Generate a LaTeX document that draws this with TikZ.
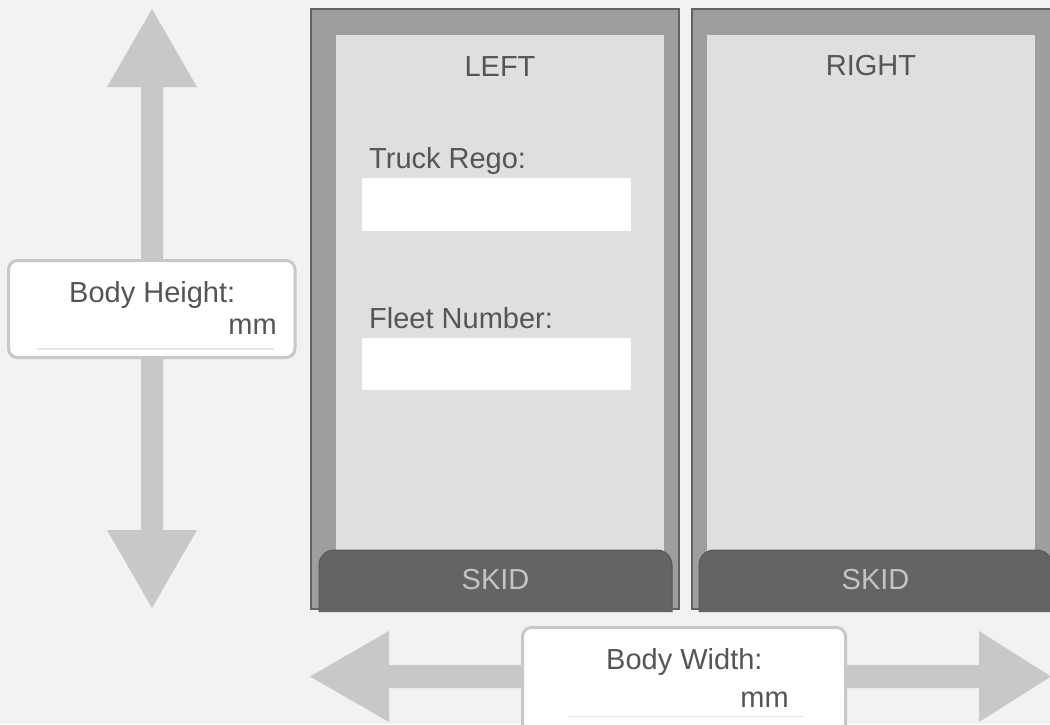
\documentclass[tikz,border=0pt]{standalone}
\usepackage{fontspec}
\setmainfont{Liberation Sans}
\definecolor{bg}{HTML}{F2F2F2}
\definecolor{frame}{HTML}{9E9E9E}
\definecolor{frameline}{HTML}{636363}
\definecolor{inner}{HTML}{DFDFDF}
\definecolor{skid}{HTML}{646464}
\definecolor{skidline}{HTML}{585858}
\definecolor{arrowc}{HTML}{C8C8C8}
\definecolor{txt}{HTML}{555555}
\definecolor{skidtxt}{HTML}{C4C4C4}
\definecolor{uline}{HTML}{E4E4E4}
\tikzset{
  lbl/.style={inner sep=0pt, text=txt, font=\fontsize{29}{34}\selectfont},
  skidlbl/.style={inner sep=0pt, text=skidtxt, font=\fontsize{29}{34}\selectfont},
  framebox/.style={fill=frame, draw=frameline, line width=2pt},
  innerbox/.style={fill=inner},
  fieldbox/.style={fill=white},
  skidbox/.style={fill=skid, draw=skidline, line width=1pt, rounded corners=15pt},
  bigarrow/.style={fill=arrowc},
  dimbox/.style={fill=white, draw=arrowc, line width=3pt, rounded corners=9pt},
  underl/.style={draw=uline, line width=1.2pt}
}
\begin{document}
\begin{tikzpicture}[x=1pt, y=-1pt]
\useasboundingbox (0,0) rectangle (1050,724);
\clip (0,0) rectangle (1050,724);
\fill[bg] (0,0) rectangle (1050,724);

% vertical double arrow
\fill[bigarrow] (152,9) -- (197,87) -- (163,87) -- (163,530) -- (197,530) -- (152,608)
  -- (107,530) -- (141,530) -- (141,87) -- (107,87) -- cycle;
% horizontal double arrow
\fill[bigarrow] (310,676.5) -- (389,631) -- (389,665) -- (979,665) -- (979,631) -- (1051,676.5)
  -- (979,722) -- (979,688) -- (389,688) -- (389,722) -- cycle;

% left panel
\draw[framebox] (310.5,8.5) rectangle (679,609);
\fill[innerbox] (336,35) rectangle (664,570);
\fill[fieldbox] (362,178) rectangle (631,231);
\fill[fieldbox] (362,338) rectangle (631,390);
\draw[skidbox] (319,612) -- (319,550) -- (672,550) -- (672,612);
\draw[frameline, line width=2pt] (310.5,609) -- (679,609);
\node[lbl, anchor=base] (left) at (500,76) {LEFT};
\node[lbl, anchor=base west] (rego) at (369,168) {Truck Rego:};
\node[lbl, anchor=base west] (fleet) at (369,328) {Fleet Number:};
\node[skidlbl, anchor=base] (skidL) at (495.5,589) {SKID};

% right panel
\draw[framebox] (691.5,8.5) rectangle (1060,609);
\fill[innerbox] (707,35) rectangle (1035,570);
\draw[skidbox] (699,612) -- (699,550) -- (1052,550) -- (1052,612);
\draw[frameline, line width=2pt] (691.5,609) -- (1060,609);
\node[lbl, anchor=base] (right) at (871,75) {RIGHT};
\node[skidlbl, anchor=base] (skidR) at (875.5,589) {SKID};

% body height box
\draw[dimbox] (8.5,260.5) rectangle (295,357.5);
\node[lbl, anchor=base west] (bh) at (69,302) {Body Height:};
\node[lbl, anchor=base east] (bhmm) at (277,334) {mm};
\draw[underl] (37,349) -- (274,349);

% body width box
\draw[dimbox] (522.5,627.5) rectangle (845.5,740);
\node[lbl, anchor=base west] (bw) at (606,669) {Body Width:};
\node[lbl, anchor=base east] (bwmm) at (789,707) {mm};
\draw[underl] (567,716.5) -- (804,716.5);
\end{tikzpicture}
\end{document}
